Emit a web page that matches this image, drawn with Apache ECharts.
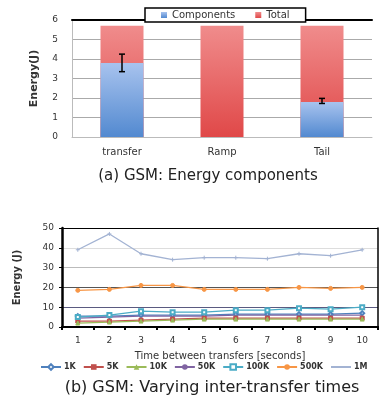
<!DOCTYPE html>
<html>
<head>
<meta charset="utf-8">
<script src="https://cdn.jsdelivr.net/npm/echarts@6/dist/echarts.min.js"></script>
<style>
  html, body { margin: 0; padding: 0; background: #fff; }
  #chart { width: 380px; height: 396px; }
</style>
</head>
<body>
<div id="chart"></div>
<script>
// (a) energy components
const PHASES = ['transfer', 'Ramp', 'Tail']
const TOTAL = [5.7, 5.7, 5.7]
const COMPONENTS = [3.8, 0, 1.8]
const COMP_ERR = [[0, 3.35, 4.25], [2, 1.72, 1.98]]

// (b) varying inter-transfer times
const GAPS = ['1', '2', '3', '4', '5', '6', '7', '8', '9', '10']
const SIZES = ['1K', '5K', '10K', '50K', '100K', '500K', '1M']
const E_1K = [5.5, 5.5, 6, 6, 6, 6.5, 6.5, 6.5, 6.5, 7]
const E_5K = [3, 3, 3.5, 4, 4.5, 4.5, 4.5, 4.5, 4.5, 4.5]
const E_10K = [2, 2.5, 3, 3.5, 4, 4, 4, 4, 4, 4]
const E_50K = [4.5, 5, 5.5, 5.5, 5.5, 6, 6, 6, 6, 6]
const E_100K = [5, 6, 8, 7.5, 7.5, 8.5, 8.5, 9.5, 9, 10]
const E_500K = [18.5, 19, 21, 21, 19, 19, 19, 20, 19.5, 20]
const E_1M = [39, 47, 37, 34, 35, 35, 34.5, 37, 36, 39]

const LINE_COLORS = ['#4f81bd', '#c0504d', '#9bbb59', '#8064a2', '#4bacc6', '#f79646', '#a3b3d3']
const LINE_SYMBOLS = ['emptyDiamond', 'rect', 'triangle', 'none', 'emptyRect', 'circle', 'path://M-1,0H1M0,-1V1']
const LINE_DATA = [E_1K, E_5K, E_10K, E_50K, E_100K, E_500K, E_1M]

const FONT = 'DejaVu Sans'
const chart = echarts.init(document.getElementById('chart'))

const grad = (top, bottom) => new echarts.graphic.LinearGradient(0, 0, 0, 1, [
  { offset: 0, color: top },
  { offset: 1, color: bottom },
])

const lineSeries = SIZES.map((name, i) => ({
  type: 'line',
  name,
  xAxisIndex: 2,
  yAxisIndex: 1,
  data: LINE_DATA[i],
  symbol: LINE_SYMBOLS[i],
  symbolSize: 4,
  lineStyle: { width: 1.3, color: LINE_COLORS[i] },
  itemStyle: { color: LINE_COLORS[i], borderColor: LINE_COLORS[i] },
  z: i === 6 ? 3 : 2,
}))

chart.setOption({
  animation: false,
  textStyle: { fontFamily: FONT },
  title: [
    { text: '(a) GSM: Energy components', left: 203, top: 164, textAlign: 'center',
      textStyle: { fontFamily: FONT, fontSize: 15, fontWeight: 'normal', color: '#222' } },
    { text: '(b) GSM: Varying inter-transfer times', left: 207, top: 375, textAlign: 'center',
      textStyle: { fontFamily: FONT, fontSize: 16, fontWeight: 'normal', color: '#222' } },
  ],
  legend: [
    {
      data: ['Components', 'Total'],
      left: 145, top: 8, width: 157,
      padding: [2, 16], itemGap: 20,
      itemWidth: 6, itemHeight: 6, icon: 'rect',
      borderColor: '#000', borderWidth: 1.5, backgroundColor: '#fff',
      textStyle: { fontSize: 10, color: '#333' },
    },
    {
      data: SIZES,
      left: 40, top: 363, width: 345, padding: 0,
      itemGap: 7, itemWidth: 20, itemHeight: 7,
      textStyle: { fontSize: 8, color: '#333', fontWeight: 'bold', padding: [0, 0, 0, -2] },
    },
  ],
  grid: [
    { left: 72, right: 8, top: 20, height: 117 },
    { left: 62, right: 2, top: 228, height: 99 },
  ],
  xAxis: [
    {
      gridIndex: 0, type: 'category', data: PHASES,
      axisLine: { lineStyle: { color: '#bbb' } },
      axisTick: { show: false },
      axisLabel: { fontSize: 10, color: '#333', margin: 10 },
    },
    {
      gridIndex: 0, type: 'category', position: 'top', data: PHASES,
      axisLine: { lineStyle: { color: '#000', width: 2 } },
      axisTick: { show: false }, axisLabel: { show: false },
    },
    {
      gridIndex: 1, type: 'category', data: GAPS,
      axisLine: { lineStyle: { color: '#000', width: 2 } },
      axisTick: { show: true, inside: false, length: 3, lineStyle: { color: '#000', width: 2 } },
      axisLabel: { fontSize: 9, color: '#333', margin: 9 },
      name: 'Time between transfers [seconds]', nameLocation: 'middle', nameGap: 24,
      nameTextStyle: { fontSize: 10, color: '#333' },
    },
    {
      gridIndex: 1, type: 'category', position: 'top', data: GAPS,
      axisLine: { lineStyle: { color: '#000', width: 2 } },
      axisTick: { show: false }, axisLabel: { show: false },
    },
  ],
  yAxis: [
    {
      gridIndex: 0, type: 'value', min: 0, max: 6, interval: 1,
      axisLine: { show: true, lineStyle: { color: '#bbb' } },
      axisTick: { show: false },
      axisLabel: { fontSize: 9, color: '#333', margin: 14 },
      splitLine: { lineStyle: { color: '#aaa' } },
      name: 'Energy(J)', nameLocation: 'middle', nameGap: 32,
      nameTextStyle: { fontSize: 11, color: '#333', fontWeight: 'bold' },
    },
    {
      gridIndex: 1, type: 'value', min: 0, max: 50, interval: 10,
      axisLine: { show: true, lineStyle: { color: '#000', width: 2.5 } },
      axisTick: { show: true, length: 3, lineStyle: { color: '#000' } },
      axisLabel: { fontSize: 9, color: '#333', margin: 8 },
      splitLine: { lineStyle: { color: ['#000', '#5a5a80', '#555', '#bbb', '#ddd', '#000'] } },
      name: 'Energy (J)', nameLocation: 'middle', nameGap: 40,
      nameTextStyle: { fontSize: 10, color: '#333', fontWeight: 'bold' },
    },
    {
      gridIndex: 1, type: 'value', position: 'right', min: 0, max: 50, interval: 10,
      axisLine: { show: true, lineStyle: { color: '#000', width: 1.5 } },
      axisTick: { show: false }, axisLabel: { show: false }, splitLine: { show: false },
    },
  ],
  series: [
    {
      type: 'bar', name: 'Total', xAxisIndex: 0, yAxisIndex: 0,
      data: TOTAL, barWidth: 43, barGap: '-100%',
      itemStyle: { color: grad('#f08c8c', '#e04848') },
      z: 2,
    },
    {
      type: 'bar', name: 'Components', xAxisIndex: 0, yAxisIndex: 0,
      data: COMPONENTS, barWidth: 43, barGap: '-100%',
      itemStyle: { color: grad('#a8c3ee', '#5289d0') },
      z: 3,
    },
    {
      type: 'custom', xAxisIndex: 0, yAxisIndex: 0,
      data: COMP_ERR, z: 4, silent: true,
      renderItem: (params, api) => {
        const lo = api.coord([api.value(0), api.value(1)])
        const hi = api.coord([api.value(0), api.value(2)])
        const cap = 3
        const style = { stroke: '#000', lineWidth: 1.5 }
        return {
          type: 'group',
          children: [
            { type: 'line', shape: { x1: lo[0], y1: lo[1], x2: hi[0], y2: hi[1] }, style },
            { type: 'line', shape: { x1: lo[0] - cap, y1: lo[1], x2: lo[0] + cap, y2: lo[1] }, style },
            { type: 'line', shape: { x1: hi[0] - cap, y1: hi[1], x2: hi[0] + cap, y2: hi[1] }, style },
          ],
        }
      },
    },
    ...lineSeries,
  ],
})
</script>
</body>
</html>
